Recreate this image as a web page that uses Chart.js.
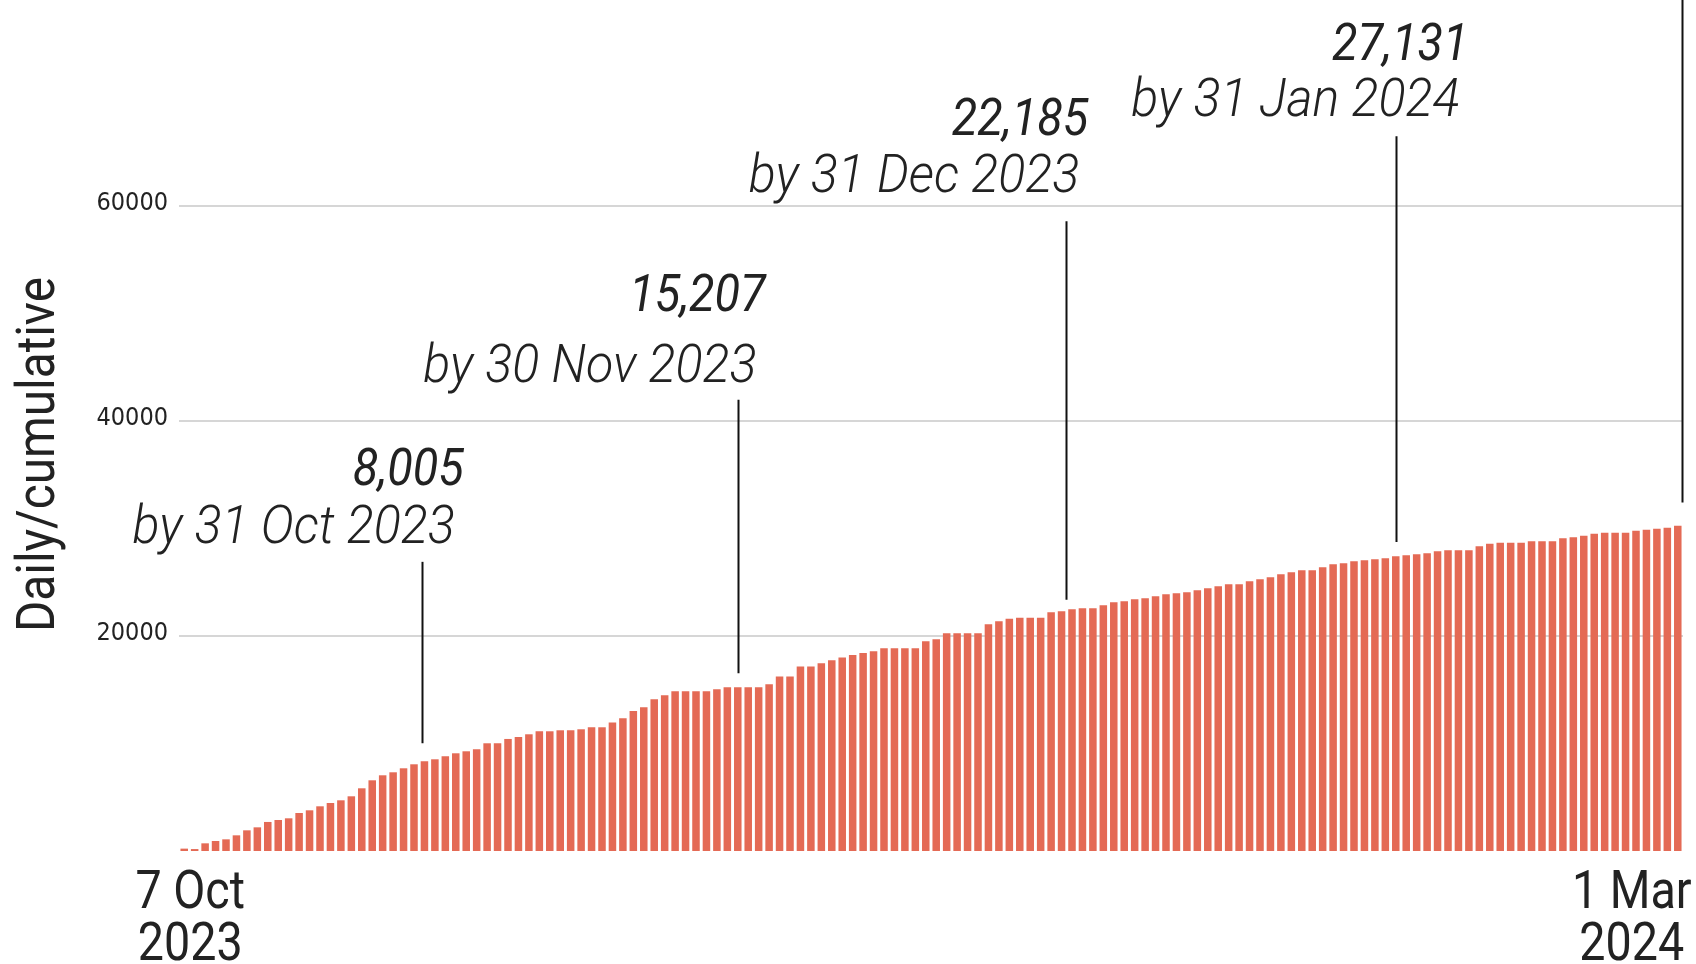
<!DOCTYPE html>
<html>
<head>
<meta charset="utf-8">
<title>Daily/cumulative</title>
<script src="https://cdn.jsdelivr.net/npm/chart.js@4.4.1/dist/chart.umd.min.js"></script>
<style>
  html, body { margin: 0; padding: 0; background: #fff; }
  #wrap { width: 1696px; height: 964px; }
</style>
</head>
<body>
<div id="wrap"><canvas id="chart" width="1696" height="964"></canvas></div>
<script>
// cumulative total per reported day, 7 Oct 2023 .. 1 Mar 2024
const cumulative = [
  220, 180, 713, 930, 1085, 1457, 1922, 2200, 2700, 2883, 3039, 3535,
  3783, 4155, 4465, 4713, 5085, 5829, 6573, 7038, 7317, 7689, 8061, 8340,
  8526, 8805, 9084, 9270, 9456, 10014, 10014, 10417, 10603, 10851, 11130, 11130,
  11223, 11223, 11316, 11502, 11502, 11936, 12339, 13022, 13363, 14107, 14479, 14851,
  14851, 14851, 14851, 15037, 15223, 15223, 15223, 15223, 15502, 16212, 16212, 17142,
  17142, 17456, 17735, 17983, 18231, 18417, 18572, 18851, 18851, 18851, 18851, 19502,
  19690, 20248, 20248, 20248, 20248, 21085, 21364, 21581, 21674, 21674, 21674, 22201,
  22294, 22480, 22573, 22573, 22852, 23131, 23224, 23410, 23503, 23689, 23875, 23968,
  24061, 24247, 24433, 24620, 24806, 24806, 25085, 25271, 25457, 25736, 25922, 26108,
  26108, 26387, 26666, 26759, 26945, 27038, 27131, 27224, 27410, 27503, 27596, 27689,
  27876, 27969, 27969, 27969, 28341, 28557, 28650, 28650, 28650, 28806, 28806, 28806,
  29085, 29178, 29302, 29488, 29581, 29581, 29581, 29767, 29860, 29953, 30046, 30232
];
const days = cumulative.map((v, i) => i + 1);

const yTicks = [20000, 40000, 60000];

// first / last date labels under the bars
const xLabelAt = [0, 143];
const xLabels = [['7 Oct', '2023'], ['1 Mar', '2024']];

// call-outs: bar index of the line, texts, line ends and text anchors in data units
const noteAt = [22.8, 53, 84.4, 116, 143.4];
const noteValue = ['8,005', '15,207', '22,185', '27,131', ''];
const noteDate = ['by 31 Oct 2023', 'by 30 Nov 2023', 'by 31 Dec 2023', 'by 31 Jan 2024', ''];
const noteFrom = [10018, 16530, 23348, 28716, 32400];
const noteTo = [26883, 41952, 58538, 66445, 79200];
const noteDateY = [28650, 43646, 61236, 68305];
const noteValueY = [34045, 50166, 66603, 73579];
const noteTextAt = [25.9, 54.8, 85.7, 122.1];

// roboto squeezed a bit, the original uses a condensed face
function squeezed(ctx, text, x, y, font, align, sx) {
  ctx.save();
  ctx.translate(x, y);
  ctx.scale(sx, 1);
  ctx.font = font;
  ctx.textAlign = align;
  ctx.textBaseline = 'alphabetic';
  ctx.fillText(text, 0, 0);
  ctx.restore();
}

const notesPlugin = {
  id: 'notes',
  afterDraw(chart) {
    const ctx = chart.ctx;
    const xs = chart.scales.x;
    const ys = chart.scales.y;
    ctx.save();

    // lines
    ctx.strokeStyle = '#111';
    ctx.lineWidth = 2;
    noteAt.forEach((idx, i) => {
      const px = Math.round(xs.getPixelForValue(idx)) + 0.5;
      ctx.beginPath();
      ctx.moveTo(px, ys.getPixelForValue(noteFrom[i]));
      ctx.lineTo(px, ys.getPixelForValue(noteTo[i]));
      ctx.stroke();
    });

    // texts
    ctx.fillStyle = '#222';
    noteDate.forEach((txt, i) => {
      if (!txt) return;
      const px = xs.getPixelForValue(noteTextAt[i]);
      squeezed(ctx, txt, px, ys.getPixelForValue(noteDateY[i]), 'italic 300 54px Roboto', 'right', 0.93);
      squeezed(ctx, noteValue[i], px + 9, ys.getPixelForValue(noteValueY[i]), 'italic 400 52px Roboto', 'right', 0.9);
    });

    // x labels
    const shift = [6, -46];
    xLabelAt.forEach((idx, i) => {
      const px = xs.getPixelForValue(idx) + shift[i];
      squeezed(ctx, xLabels[i][0], px, 908, '400 53px Roboto', 'center', 0.88);
      squeezed(ctx, xLabels[i][1], px, 960, '400 53px Roboto', 'center', 0.88);
    });

    // y title
    ctx.save();
    ctx.translate(54, (chart.chartArea.top + chart.chartArea.bottom) / 2 + 23);
    ctx.rotate(-Math.PI / 2);
    ctx.scale(0.9, 1);
    ctx.font = '400 53px Roboto';
    ctx.textAlign = 'center';
    ctx.textBaseline = 'alphabetic';
    ctx.fillText('Daily/cumulative', 0, 0);
    ctx.restore();

    ctx.restore();
  }
};

new Chart(document.getElementById('chart'), {
  type: 'bar',
  data: {
    labels: days,
    datasets: [{
      data: cumulative,
      backgroundColor: '#e46a55',
      borderWidth: 0,
      categoryPercentage: 1,
      barPercentage: 0.72
    }]
  },
  options: {
    responsive: false,
    animation: false,
    devicePixelRatio: 1,
    layout: { padding: { left: 0, right: 13, top: 12, bottom: 113 } },
    plugins: {
      legend: { display: false },
      tooltip: { enabled: false }
    },
    scales: {
      x: { display: false },
      y: {
        min: 0,
        max: 78000,
        afterBuildTicks: (s) => { s.ticks = yTicks.map(v => ({ value: v })); },
        afterFit: (s) => { s.width = 179; s.paddingTop = 0; s.paddingBottom = 0; },
        ticks: {
          padding: 11,
          labelOffset: -2,
          color: '#222',
          font: { family: '"DejaVu Sans Condensed", Roboto', size: 25 },
          callback: (v) => String(v)
        },
        grid: { color: '#d6d6d6', lineWidth: 2, drawTicks: false },
        border: { display: false }
      }
    }
  },
  plugins: [notesPlugin]
});
</script>
</body>
</html>
